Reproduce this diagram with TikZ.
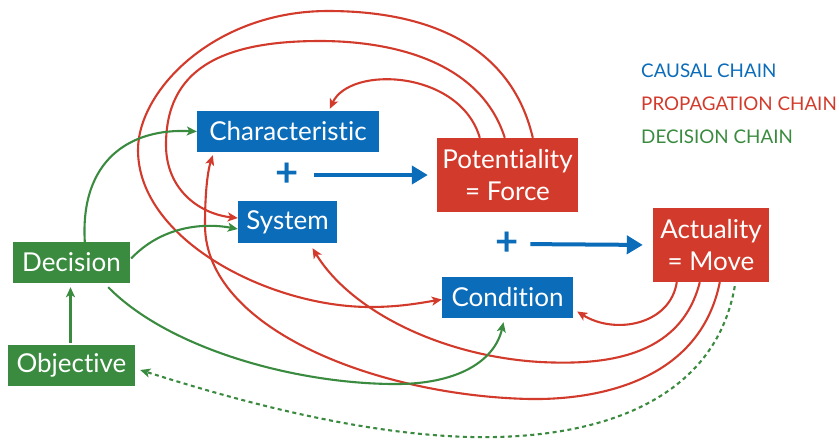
\documentclass[tikz,border=0pt]{standalone}
\usepackage{fontspec}
\setmainfont{Lato}[Ligatures={NoCommon}]
\usetikzlibrary{arrows.meta,calc}
\definecolor{cblue}{RGB}{11,108,185}
\definecolor{cred}{RGB}{210,58,43}
\definecolor{cgreen}{RGB}{58,139,64}
\begin{document}
\begin{tikzpicture}[x=1pt,y=-1pt,
  box/.style={draw=none, inner sep=0pt, text=white, font=\fontsize{26}{32}\selectfont, align=center},
  bluebox/.style={box, fill=cblue},
  redbox/.style={box, fill=cred},
  greenbox/.style={box, fill=cgreen},
  plussign/.style={inner sep=0pt, minimum size=20pt, text=cblue, font=\bfseries\fontsize{40}{40}\selectfont},
  causal/.style={draw=cblue, line width=4pt, -{Triangle[length=16pt,width=18pt]}},
  prop/.style={draw=cred, line width=2.1pt, -{Stealth[length=10pt,width=9pt,inset=2.5pt]}},
  dec/.style={draw=cgreen, line width=2.1pt, -{Stealth[length=10pt,width=9pt,inset=2.5pt]}},
  decdot/.style={dec, dash pattern=on 4pt off 3.5pt},
  legend/.style={anchor=base west, inner sep=0pt, font=\fontsize{18.8}{18.8}\selectfont}
]
\useasboundingbox (0,0) rectangle (839,440);

% nodes
\node[bluebox, minimum width=182pt, minimum height=41pt] (char) at (288,131.5) {Characteristic};
\node[bluebox, minimum width=99pt, minimum height=42pt] (sys) at (287.5,222) {System};
\node[redbox, minimum width=141pt, minimum height=74pt] (pot) at (507.5,175) {Potentiality\\= Force};
\node[redbox, minimum width=116pt, minimum height=74pt] (act) at (711,245) {Actuality\\= Move};
\node[bluebox, minimum width=131pt, minimum height=41pt] (cond) at (507.5,297.5) {Condition};
\node[greenbox, minimum width=117pt, minimum height=41pt] (deci) at (71.5,262.5) {Decision};
\node[greenbox, minimum width=127pt, minimum height=41pt] (obj) at (71.5,365.5) {Objective};

\node[plussign] (plus1) at (287,175) {+};
\node[plussign] (plus2) at (507.5,244) {+};

\node[legend, text=cblue] (l1) at (641,77) {CAUSAL CHAIN};
\node[legend, text=cred] (l2) at (641,110) {PROPAGATION CHAIN};
\node[legend, text=cgreen] (l3) at (641,143) {DECISION CHAIN};

% causal chain
\draw[causal, shorten <=15pt, shorten >=9pt] (plus1.east) -- (pot.west);
\draw[causal, shorten <=11pt, shorten >=10pt] (plus2.east) -- (act.west);

% propagation chain
\draw[prop] ($(pot.north west)+(43,0)$) .. controls (460,70) and (350,65) .. ($(char.north west)+(133,-2)$);
\draw[prop] ($(pot.north west)+(68,0)$) .. controls (480,60) and (390,41) .. (320,41)
  .. controls (220,41) and (166,70) .. (166,145)
  .. controls (166,190) and (200,214) .. ($(sys.west)+(0,-4)$);
\draw[prop] ($(pot.north west)+(96,0)$) .. controls (510,40) and (420,11) .. (328,11)
  .. controls (215,11) and (138,90) .. (138,150)
  .. controls (138,240) and (270,307) .. (370,307)
  .. controls (400,307) and (420,303) .. ($(cond.west)+(0,2)$);
\draw[prop] ($(act.south west)+(24,0)$) .. controls (670,325) and (615,335) .. ($(cond.east)+(4,14)$);
\draw[prop] ($(act.south west)+(47,0)$) .. controls (680,360) and (600,365) .. (540,362)
  .. controls (440,356) and (350,310) .. ($(sys.south)+(25,5)$);
\draw[prop] ($(act.south west)+(67,0)$) .. controls (700,380) and (600,400) .. (530,399)
  .. controls (380,396) and (205,330) .. (205,225)
  .. controls (205,190) and (208,170) .. ($(char.south west)+(16,3)$);

% decision chain
\draw[decdot] ($(act.south west)+(82,4)$) .. controls (715,400) and (600,440) .. (470,437)
  .. controls (350,434) and (220,395) .. ($(obj.east)+(5,4.5)$);
\draw[dec] ($(deci.north west)+(72,0)$) .. controls (80,160) and (130,128) .. (char.west);
\draw[dec] ($(deci.east)+(1,-4)$) .. controls (160,228) and (200,222) .. ($(sys.west)+(0,7)$);
\draw[dec] ($(deci.south east)+(-22,4)$) .. controls (170,350) and (300,385) .. (400,384)
  .. controls (460,383) and (495,360) .. ($(cond.south)+(-4,4)$);
\draw[dec] ($(obj.north)+(-1,-2)$) -- ($(deci.south)+(-1,4)$);
\end{tikzpicture}
\end{document}
